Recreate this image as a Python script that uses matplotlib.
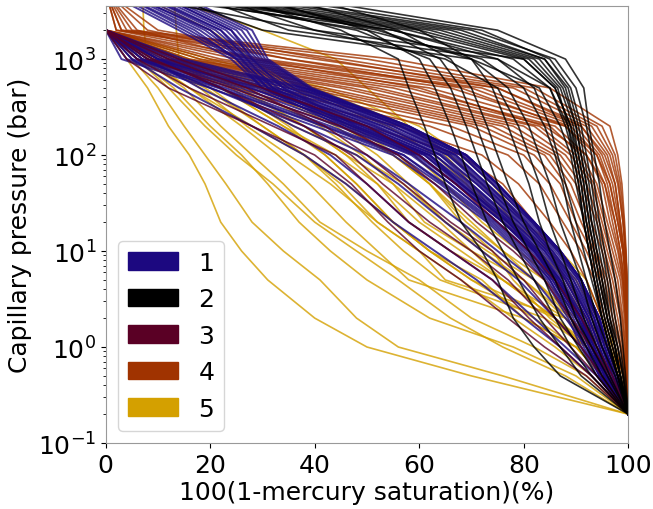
import matplotlib
matplotlib.use("Agg")
import matplotlib.pyplot as plt
import numpy as np
from matplotlib.patches import Patch

# Pressure steps (bar) shared by every curve
PRESSURE = [5000, 2000, 1000, 500, 200, 100, 50, 20, 10, 5, 2, 1, 0.5, 0.2]

# 100(1-S_Hg) (%) at each pressure step; None = step not measured
GROUP1 = [
    [None, 0, 3, 20, 40, 55, 63, 73, 79, 84, 88.5, 91, 94, 100],
    [None, 0, 4, 21.5, 41.5, 56, 64, 73.5, 79.5, 84.5, 89, 91.5, 94.5, 100],
    [None, 0, 5, 23, 43, 57, 65, 74.5, 80.5, 85, 89.5, 92, 94.5, 100],
    [None, 0, 6, 24.5, 44.5, 58.5, 66, 75, 81, 85.5, 90, 92.5, 95, 100],
    [None, 0, 7, 26, 46, 59.5, 67, 76, 82, 86, 90.5, 93, 95, 100],
    [None, 0, 8, 27.5, 47.5, 61, 68, 77, 82.5, 86.5, 91, 93.5, 95.5, 100],
    [None, 0, 9, 29, 49, 62, 69, 77.5, 83, 87, 91.5, 93.5, 95.5, 100],
    [None, 0, 10, 30, 50, 63, 70, 78, 84, 88, 92, 94, 96, 100],
    [None, 0, 11, 31.5, 51.5, 64, 71, 79, 84.5, 88.5, 92.5, 94.5, 96.5, 100],
    [None, 0, 12, 33, 53, 65.5, 72, 80, 85, 89, 93, 95, 97, 100],
    [None, 0, 13, 35, 55, 67, 73, 80.5, 85.5, 89.5, 93.5, 95, 97, 100],
    [None, 0, 14, 36.5, 56.5, 68, 74, 81.5, 86.5, 90.5, 94, 95.5, 97.5, 100],
    [None, 0, 15, 38, 58, 69, 75, 82, 87, 91, 94.5, 96, 98, 100],
    [None, 0, 10, 28, 47, 60, 67, 76, 82, 86, 90.5, 93, 95.5, 100],
    [None, 0, 6, 22, 42, 57, 64.5, 74, 80, 85, 89, 92, 94.5, 100],
    [0, 14, 24, 30, 48, 61.5, 68, 77, 82, 86.5, 91, 93, 95.5, 100],
    [1, 15, 25, 31, 49, 62, 68.5, 77.5, 82.5, 87, 91, 93.5, 95.5, 100],
    [2, 16, 25.5, 32, 50, 63, 69.5, 78, 83, 87.5, 91.5, 93.5, 96, 100],
    [3, 18, 26, 33, 51, 64, 70, 78.5, 83.5, 88, 92, 94, 96, 100],
    [4, 19, 26.5, 34, 52, 64.5, 71, 79, 84, 88.5, 92.5, 94.5, 96.5, 100],
    [5, 20, 27, 35, 53, 65.5, 71.5, 79.5, 84.5, 89, 92.5, 94.5, 96.5, 100],
    [6, 21, 27.5, 36, 54, 66, 72, 80, 85, 89.5, 93, 95, 97, 100],
    [7, 22, 28, 37, 55, 66.5, 72.5, 80.5, 85.5, 90, 93.5, 95, 97, 100],
    [8, 23, 28.5, 37.5, 56, 67, 73, 81, 86, 90.5, 93.5, 95.5, 97.5, 100],
    [9, 24, 29, 38, 56.5, 68, 74, 81.5, 86.5, 91, 94, 95.5, 97.5, 100],
    [10, 25, 29.5, 38.5, 57, 68.5, 74.5, 82, 87, 91, 94, 96, 98, 100],
    [11, 26, 30, 39, 57.5, 69, 75, 82, 87, 91, 94.5, 96, 98, 100],
    [12, 27, 30.5, 39, 58, 69, 75, 82, 87, 91, 94.5, 96, 98, 100],
    [13, 28, 31, 39.5, 58, 69, 75, 82, 87, 91, 94.5, 96, 98, 100],
    [3, 20, 26, 31, 46, 60, 67, 76, 81.5, 86, 90.5, 93, 95.5, 100],
    [6, 22, 27, 32, 47, 61, 67.5, 76.5, 82, 86.5, 91, 93, 95.5, 100],
    [9, 24, 28, 34, 48, 62, 68, 77, 82.5, 87, 91, 93.5, 96, 100],
    [2, 17, 25, 30, 45, 59, 66, 75, 81, 85.5, 90, 92.5, 95, 100],
    [None, 0, 5, 14, 28, 38, 46, 55, 63, 71, 80, 87, 93, 100],
    [None, 0, 8, 18, 33, 43, 50, 58, 66, 74, 82, 88, 94, 100],
    [None, 0, 10, 22, 36, 48, 56, 65, 72, 79, 86, 91, 95, 100],
    [None, 0, 7, 20, 38, 50, 58, 68, 75, 82, 88, 92, 96, 100],
]

GROUP2 = [
    [10, 62, 82, 87, 89.5, 90.5, 91.5, 92.5, 93.5, 94.5, 96, 97.5, 98.5, 100],
    [5, 58, 80, 86, 89, 90, 91, 92, 93, 94, 95.5, 97, 98.5, 100],
    [15, 66, 84, 88.5, 90.5, 91.5, 92.5, 93.5, 94.5, 95.5, 96.5, 98, 99, 100],
    [0, 55, 78, 85, 88, 89.5, 90.5, 91.5, 92.5, 93.5, 95, 96.5, 98, 100],
    [20, 70, 86, 90, 92, 93, 93.5, 94.5, 95.5, 96.5, 97.5, 98.5, 99.2, 100],
    [25, 72, 85, 89, 91, 92, 93, 94, 95, 96, 97, 98, 99, 100],
    [8, 60, 81, 86.5, 88.5, 89.5, 90.5, 91.5, 92.5, 93.5, 95, 96.5, 98, 100],
    [30, 75, 88, 91.5, 92.5, 93.5, 94.5, 95.5, 96.5, 97.5, 98.5, 99, 99.5, 100],
    [12, 64, 83, 87.5, 90, 91, 92, 93, 94, 95, 96.5, 97.5, 98.5, 100],
    [18, 68, 84, 88, 90, 91, 92, 93, 94, 95, 96, 97.5, 98.5, 100],
    [10, 55, 75, 82, 85, 86.5, 88, 90, 91.5, 93, 95, 96.5, 98, 100],
    [5, 50, 72, 80, 84, 86, 87.5, 89, 90.5, 92, 94, 96, 98, 100],
    [15, 52, 70, 77, 81, 83, 85, 87, 89, 91, 93, 95, 97.5, 100],
    [20, 45, 56, 58, 61, 63, 65, 68, 72, 75, 78, 82, 87, 100],
    [25, 50, 60, 63, 66, 68, 70, 73, 76, 79, 83, 87, 91, 100],
    [10, 48, 62, 66, 69, 71, 73, 76, 79, 82, 86, 89, 93, 100],
    [30, 56, 66, 70, 73, 75, 77, 80, 83, 86, 89, 92, 95, 100],
    [22, 53, 64, 68, 71, 73, 75, 78, 81, 84, 87, 90.5, 94, 100],
    [35, 60, 70, 74, 77, 79, 81, 83, 85, 87.5, 90, 93, 96, 100],
    [0, 40, 65, 75, 79, 81, 83, 85, 87, 89, 91.5, 94, 96.5, 100],
    [15, 35, 75, 85, 88.5, 90, 91, 92, 93, 94, 95.5, 97, 98.5, 100],
    [18, 40, 80, 86, 89, 90.5, 91.5, 92.5, 93.5, 94.5, 96, 97.5, 98.5, 100],
    [10, 30, 70, 83, 87, 89, 90, 91.5, 92.5, 93.5, 95, 96.5, 98, 100],
]

GROUP3 = [
    [None, 0, 6, 16, 32, 44, 50, 58, 66, 74, 81, 87, 93, 100],
    [None, 0, 9, 22, 38, 47, 53, 62, 70, 77, 84, 89, 94, 100],
    [None, 0, 12, 27, 42, 50, 57, 66, 74, 80, 86, 91, 95, 100],
    [None, 0, 8, 24, 45, 56, 63, 71, 78, 84, 89, 93, 96.5, 100],
    [None, 0, 14, 30, 50, 60, 67, 75, 81, 86, 91, 94, 97, 100],
    [None, 0, 4, 12, 28, 40, 47, 54, 60, 68, 77, 84, 92, 100],
]

GROUP4 = [
    [0, 5, 55, 85, 96.5, 98, 98.8, 99.3, 99.6, 99.8, 100, 100, 100, 100],
    [0, 4, 50, 82, 95, 97.5, 98.5, 99.2, 99.5, 99.8, 100, 100, 100, 100],
    [0, 3, 45, 80, 94, 97, 98.2, 99, 99.5, 99.8, 100, 100, 100, 100],
    [0, 2, 40, 78, 93, 96.5, 98, 99, 99.4, 99.7, 100, 100, 100, 100],
    [0, 3, 35, 75, 92, 96, 97.5, 98.5, 99.2, 99.6, 99.9, 100, 100, 100],
    [0, 2, 30, 72, 91, 95, 97, 98.3, 99, 99.5, 99.8, 100, 100, 100],
    [None, 0, 28, 70, 90, 94.5, 96.5, 98, 99, 99.5, 99.8, 100, 100, 100],
    [None, 0, 25, 66, 89, 94, 96, 97.5, 98.5, 99.3, 99.7, 100, 100, 100],
    [None, 0, 22, 62, 88, 93, 95.5, 97, 98.2, 99, 99.6, 100, 100, 100],
    [None, 0, 20, 58, 86, 92, 95, 96.5, 98, 99, 99.5, 99.8, 100, 100],
    [None, 0, 18, 55, 85, 91, 94, 96, 97.5, 98.8, 99.5, 99.8, 100, 100],
    [None, 0, 16, 52, 83, 90, 93.5, 95.5, 97, 98.5, 99.3, 99.7, 100, 100],
    [None, 0, 15, 50, 82, 89, 93, 95, 96.5, 98, 99, 99.5, 99.8, 100],
    [None, 0, 14, 47, 80, 88, 92, 94.5, 96, 97.5, 98.8, 99.4, 99.8, 100],
    [None, 0, 13, 45, 78, 87, 91, 94, 95.5, 97, 98.5, 99.2, 99.7, 100],
    [None, 0, 12, 42, 76, 86, 90, 93, 95, 96.5, 98, 99, 99.6, 100],
    [None, 0, 11, 40, 74, 85, 89, 92, 94, 96, 97.5, 98.7, 99.5, 100],
    [None, 0, 10, 38, 72, 84, 88, 91, 93.5, 95.5, 97, 98.5, 99.4, 100],
    [None, 0, 9, 35, 70, 82, 87, 90, 93, 95, 96.5, 98, 99.2, 100],
    [None, 0, 8, 32, 66, 80, 85, 89, 92, 94.5, 96, 97.5, 99, 100],
    [None, 0, 7, 30, 62, 77, 83, 87.5, 91, 93.5, 95.5, 97, 98.5, 100],
    [None, 0, 6, 27, 56, 72, 79, 85, 89, 92, 95, 96.5, 98, 100],
    [None, 0, 10, 25, 50, 68, 76, 82, 85, 88, 92, 95, 97.5, 100],
    [0, 6, 28, 60, 84, 92, 95.5, 97.5, 98.5, 99.2, 99.7, 100, 100, 100],
    [0, 8, 35, 68, 88, 94, 96.5, 98, 99, 99.5, 99.8, 100, 100, 100],
    [0, 10, 42, 75, 91, 95.5, 97.5, 98.5, 99.2, 99.6, 99.9, 100, 100, 100],
]

GROUP5 = [
    [None, 0, 4, 8, 12, 16, 19, 22, 26, 31, 40, 50, 70, 100],
    [None, 0, 5, 10, 15, 19, 23, 28, 34, 41, 48, 56, 76, 100],
    [None, 0, 6, 13, 20, 26, 31, 37, 43, 50, 62, 78, 90, 100],
    [None, 0, 7, 16, 26, 33, 39, 46, 52, 58, 80, 90, 95, 100],
    [None, 0, 8, 19, 30, 38, 44, 51, 57, 64, 84, 92, 96, 100],
    [None, 0, 9, 22, 34, 42, 48, 55, 62, 70, 86, 93, 97, 100],
    [None, 0, 10, 25, 38, 46, 52, 58, 66, 76, 88, 94, 97, 100],
    [None, 0, 11, 27, 41, 49, 55, 61, 70, 80, 89, 94, 97.5, 100],
    [None, 0, 12, 29, 44, 52, 58, 65, 73, 82, 90, 95, 98, 100],
    [None, 0, 13, 31, 47, 56, 62, 69, 76, 84, 91, 95, 98, 100],
    [None, 0, 14, 33, 50, 59, 65, 72, 79, 86, 92, 96, 98, 100],
    [None, 0, 16, 36, 54, 63, 69, 76, 83, 88, 93, 96.5, 98.5, 100],
    [7, 7.3, 8, 16, 28, 38, 46, 55, 62, 70, 82, 90, 95, 100],
    [13, 13.5, 14, 22, 34, 44, 52, 60, 68, 76, 86, 92, 96, 100],
    [5, 20, 28, 36, 46, 55, 62, 70, 76, 82, 89, 94, 97, 100],
    [8, 30, 44, 50, 58, 65, 70, 76, 82, 87, 92, 96, 98, 100],
    [None, 0, 8, 20, 30, 38, 45, 52, 60, 65, 88, 93, 96, 100],
    [None, 0, 10, 24, 35, 42, 48, 55, 62, 72, 80, 90, 95, 100],
    [None, 0, 12, 26, 38, 46, 55, 64, 70, 76, 86, 92, 96, 100],
    [None, 0, 18, 40, 58, 66, 72, 78, 85, 90, 94, 97, 98.5, 100],
    [None, 0, 20, 42, 60, 68, 74, 80, 87, 92, 95, 97.5, 99, 100],
    [None, 0, 7, 15, 22, 28, 34, 41, 50, 60, 70, 82, 92, 100],
    [None, 0, 9, 18, 27, 35, 43, 52, 60, 68, 78, 86, 93, 100],
    [None, 0, 6, 12, 19, 25, 32, 40, 48, 56, 66, 76, 88, 100],
    [None, 0, 10, 22, 36, 48, 57, 65, 72, 80, 88, 93, 97, 100],
    [None, 0, 15, 30, 45, 55, 62, 68, 74, 78, 85, 92, 96, 100],
]

LABELS = ["1", "2", "3", "4", "5"]
COLORS = ["#1c0880", "#000000", "#5a0025", "#a03300", "#d4a000"]
GROUPS = [GROUP1, GROUP2, GROUP3, GROUP4, GROUP5]
DRAW_ORDER = [4, 3, 0, 2, 1]
WIDTHS = [1.4, 1.2, 1.2, 1.2, 1.2]

fig = plt.figure(figsize=(6.53, 5.10), dpi=100)
ax = fig.add_axes([0.162, 0.1294, 0.8, 0.8566])

for gi in DRAW_ORDER:
    for curve in GROUPS[gi]:
        x = np.array([np.nan if v is None else v for v in curve], dtype=float)
        ax.plot(x, PRESSURE, color=COLORS[gi], lw=WIDTHS[gi], alpha=0.8)

ax.set_yscale("log")
ax.set_xlim(0, 100)
ax.set_ylim(0.1, 3560)
ax.set_xticks([0, 20, 40, 60, 80, 100])
ax.tick_params(labelsize=18)
for s in ax.spines.values():
    s.set_color("#999999")
ax.set_xlabel("100(1-mercury saturation)(%)", fontsize=18, labelpad=2)
ax.set_ylabel("Capillary pressure (bar)", fontsize=18)

handles = [Patch(facecolor=c, edgecolor=c, label=l) for c, l in zip(COLORS, LABELS)]
ax.legend(handles=handles, loc="lower left", fontsize=18)

fig.savefig("out.png", dpi=100)
